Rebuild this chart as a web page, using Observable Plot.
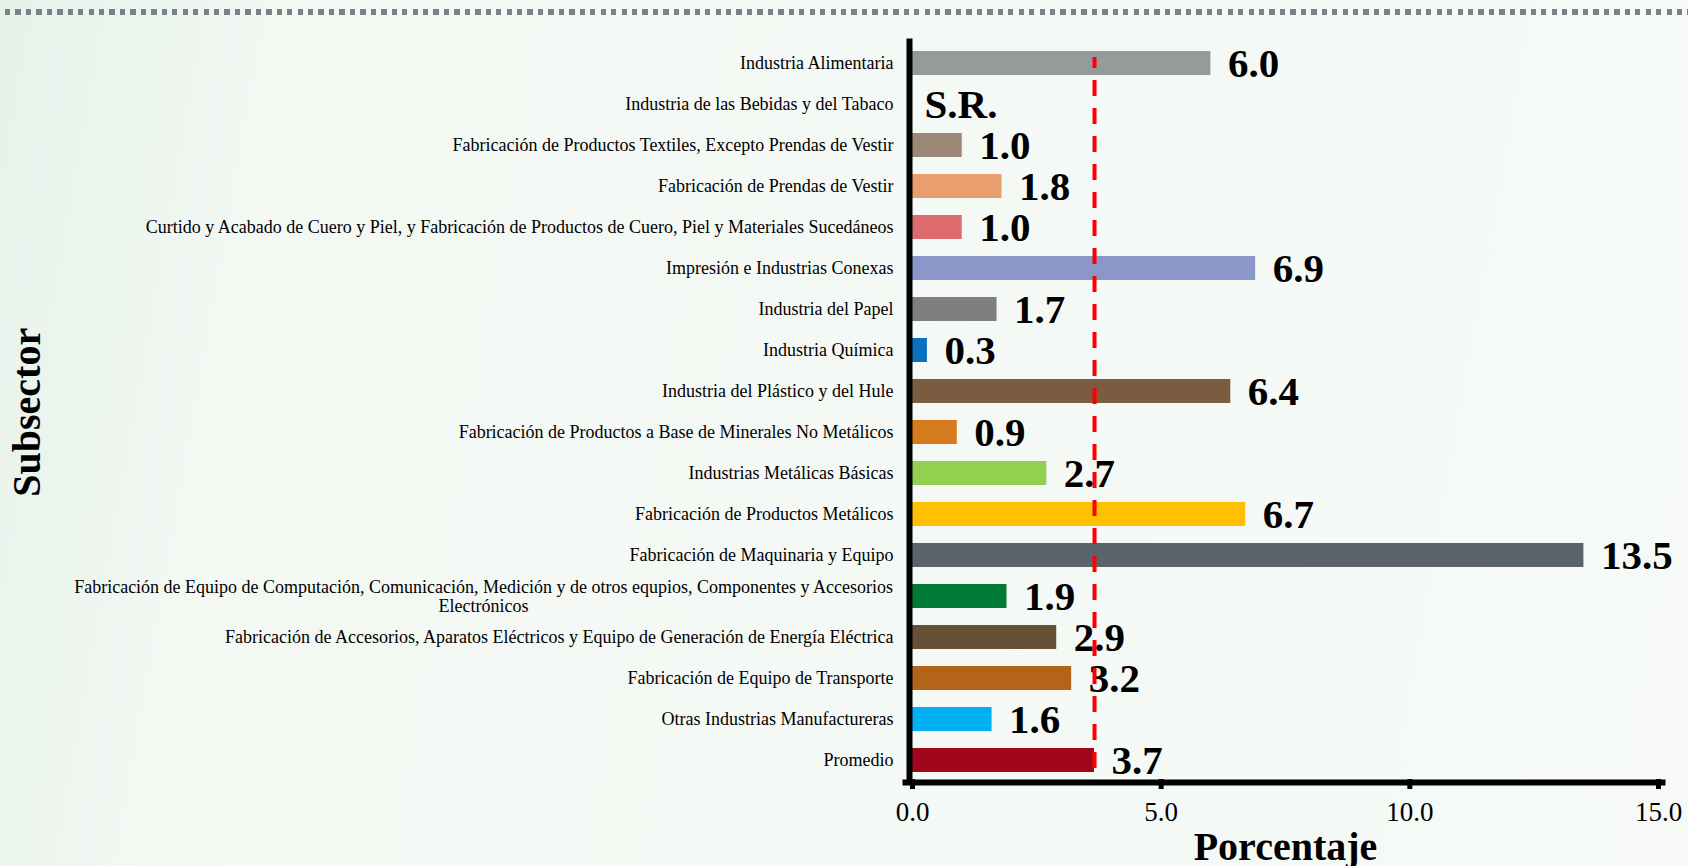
<!DOCTYPE html>
<html>
<head>
<meta charset="utf-8">
<script src="https://cdn.jsdelivr.net/npm/d3@7"></script>
<script src="https://cdn.jsdelivr.net/npm/@observablehq/plot@0.6"></script>
<style>
  html, body { margin: 0; padding: 0; }
  body {
    width: 1688px; height: 866px; overflow: hidden; position: relative;
    background: linear-gradient(100deg, #e7f1ea 0%, #edf5ef 9%, #f3f8f3 16%, #f5f9f5 45%, #f6f9f6 100%);
  }
  #dots {
    position: absolute; top: 9px; left: 5px; right: 0; height: 6px;
    background: repeating-linear-gradient(90deg, #7a8288 0px, #7a8288 5.3px, transparent 5.3px, transparent 10.45px);
  }
  #chart { position: absolute; top: 0; left: 0; }
</style>
</head>
<body>
<div id="chart"></div>
<div id="dots"></div>
<script>
const categories = [
  "Industria Alimentaria",
  "Industria de las Bebidas y del Tabaco",
  "Fabricación de Productos Textiles, Excepto Prendas de Vestir",
  "Fabricación de Prendas de Vestir",
  "Curtido y Acabado de Cuero y Piel, y Fabricación de Productos de Cuero, Piel y Materiales Sucedáneos",
  "Impresión e Industrias Conexas",
  "Industria del Papel",
  "Industria Química",
  "Industria del Plástico y del Hule",
  "Fabricación de Productos a Base de Minerales No Metálicos",
  "Industrias Metálicas Básicas",
  "Fabricación de Productos Metálicos",
  "Fabricación de Maquinaria y Equipo",
  "Fabricación de Equipo de Computación, Comunicación, Medición y de otros equpios, Componentes y Accesorios Electrónicos",
  "Fabricación de Accesorios, Aparatos Eléctricos y Equipo de Generación de Energía Eléctrica",
  "Fabricación de Equipo de Transporte",
  "Otras Industrias Manufactureras",
  "Promedio"
];
const values = [6.0, null, 1.0, 1.8, 1.0, 6.9, 1.7, 0.3, 6.4, 0.9, 2.7, 6.7, 13.5, 1.9, 2.9, 3.2, 1.6, 3.66];
const colors = [
  "#959b9c", "#959b9c", "#9c8878", "#e99e6e", "#de6b6e", "#8a97c8",
  "#7f7d7e", "#0b70c0", "#7b5c40", "#d67a1e", "#92d050", "#ffc000",
  "#5b636b", "#007a36", "#654f35", "#b36418", "#00b0f0", "#a0061c"
];
const noDataLabel = "S.R.";
const wrappedCategory = categories[13];
const wrappedLines = [
  "Fabricación de Equipo de Computación, Comunicación, Medición y de otros equpios, Componentes y Accesorios",
  "Electrónicos"
];
const average = 3.66;
const xTicks = [0, 5, 10, 15];
const xLabel = "Porcentaje";
const yLabel = "Subsector";

const fmt = d3.format(".1f");
const data = categories.map((name, i) => ({
  name, value: values[i], color: colors[i],
  label: values[i] == null ? noDataLabel : fmt(values[i])
}));

const labelFont = 18;
const ctx = document.createElement("canvas").getContext("2d");
ctx.font = `${labelFont}px "Liberation Serif"`;
const wrapWidth = ctx.measureText(wrappedLines[0]).width;

const chart = Plot.plot({
  width: 1688,
  height: 866,
  marginLeft: 912,
  marginRight: 30,
  marginTop: 44.5,
  marginBottom: 87,
  style: { fontFamily: "Liberation Serif", background: "transparent", color: "#000", overflow: "visible" },
  x: { domain: [0, 15], axis: null },
  y: { domain: categories, paddingInner: 0.404, paddingOuter: 0.14, axis: null },
  color: { type: "identity" },
  marks: [
    Plot.barX(data.filter(d => d.value != null), { x: "value", y: "name", fill: "color" }),
    Plot.ruleX([0], { dx: -3, strokeWidth: 6, stroke: "#000", insetTop: -6, insetBottom: -6 }),
    Plot.frame({ anchor: "bottom", strokeWidth: 6, stroke: "#000", dy: 3, insetLeft: -7, insetRight: -4 }),
    Plot.axisX({
      ticks: xTicks, tickFormat: fmt, tickSize: 10, tickPadding: 12,
      strokeWidth: 5, fontSize: 27, label: null
    }),
    Plot.axisY(categories.filter(c => c !== wrappedCategory), {
      tickSize: 0, tickPadding: 19, fontSize: labelFont, label: null
    }),
    Plot.axisY([wrappedCategory], {
      tickSize: 0, tickPadding: 19 + wrapWidth / 2, fontSize: labelFont, label: null,
      textAnchor: "middle", lineHeight: 1.05, tickFormat: () => wrappedLines.join("\n")
    }),
    Plot.text(data.filter(d => d.value != null), {
      x: "value", y: "name", text: "label",
      dx: 17, dy: 0, textAnchor: "start", fontSize: 41, fontWeight: "bold"
    }),
    Plot.text(data.filter(d => d.value == null), {
      x: () => 0, y: "name", text: "label",
      dx: 12, dy: 0, textAnchor: "start", fontSize: 41, fontWeight: "bold"
    }),
    Plot.ruleX([average], {
      stroke: "#ff0000", strokeWidth: 4, strokeDasharray: "16,12", strokeDashoffset: 5,
      insetTop: 12.5, insetBottom: 7
    }),
    Plot.text([xLabel], { frameAnchor: "bottom", dy: 68, fontSize: 40, fontWeight: "bold", lineAnchor: "middle" }),
    Plot.text([yLabel], { frameAnchor: "left", dx: -885, rotate: -90, textAnchor: "middle", fontSize: 40, fontWeight: "bold", lineAnchor: "middle" })
  ]
});
document.getElementById("chart").append(chart);
</script>
</body>
</html>
